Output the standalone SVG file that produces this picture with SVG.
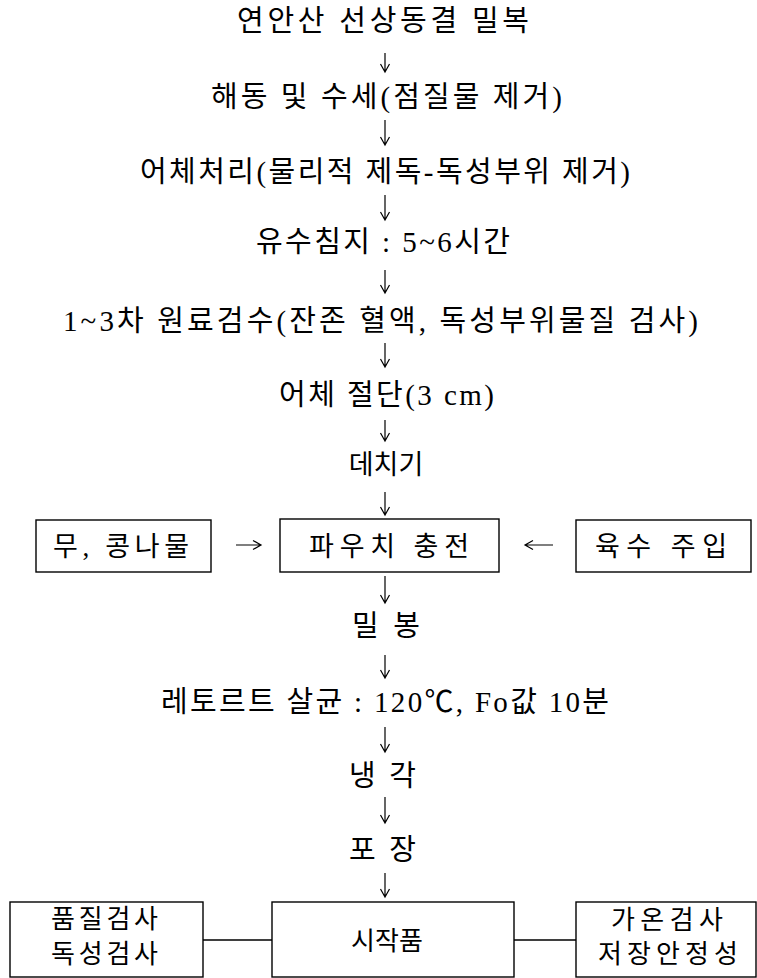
<svg xmlns="http://www.w3.org/2000/svg" width="757" height="978" viewBox="0 0 757 978">
<style>
text{font-family:"Liberation Serif","Noto Sans CJK KR",serif;font-size:29px;fill:#000;dominant-baseline:central;font-weight:400}
.b{font-size:27px}
.s{font-size:26px}
.c{text-anchor:middle}
.box{fill:#fff;stroke:#000;stroke-width:1.4}
.ar{fill:none;stroke:#000;stroke-width:1.2}
.ln{fill:none;stroke:#000;stroke-width:1.5}
</style>
<rect width="757" height="978" fill="#fff"/>
<g id="connectors">
<path class="ar" d="M385 53V72M380.5 64L385 72L389.5 64"/>
<path class="ar" d="M385 120V145M380.5 137L385 145L389.5 137"/>
<path class="ar" d="M385 195V220M380.5 212L385 220L389.5 212"/>
<path class="ar" d="M385 270V293M380.5 285L385 293L389.5 285"/>
<path class="ar" d="M385 343V367M380.5 359L385 367L389.5 359"/>
<path class="ar" d="M385 420V441M380.5 433L385 441L389.5 433"/>
<path class="ar" d="M385 492V515M380.5 507L385 515L389.5 507"/>
<path class="ar" d="M385 576V603M380.5 595L385 603L389.5 595"/>
<path class="ar" d="M385 655V678M380.5 670L385 678L389.5 670"/>
<path class="ar" d="M385 727V752M380.5 744L385 752L389.5 744"/>
<path class="ar" d="M385 797V823M380.5 815L385 823L389.5 815"/>
<path class="ar" d="M385 873V897M380.5 889L385 897L389.5 889"/>
<path class="ar" d="M236 545H261M253 540.5L261 545L253 549.5"/>
<path class="ar" d="M553 545H525M533 540.5L525 545L533 549.5"/>
<path class="ln" d="M203 940H272M514 940H576"/>
</g>
<g id="n1"><text x="237" y="21" textLength="292" lengthAdjust="spacing">연안산 선상동결 밀복</text></g>
<g id="n2"><text x="211" y="97" textLength="351" lengthAdjust="spacing">해동 및 수세(점질물 제거)</text></g>
<g id="n3"><text x="140" y="172" textLength="490" lengthAdjust="spacing">어체처리(물리적 제독-독성부위 제거)</text></g>
<g id="n4"><text x="256" y="242" textLength="254" lengthAdjust="spacing">유수침지 : 5~6시간</text></g>
<g id="n5"><text x="63" y="321" textLength="635" lengthAdjust="spacing">1~3차 원료검수(잔존 혈액, 독성부위물질 검사)</text></g>
<g id="n6"><text x="279" y="395" textLength="215" lengthAdjust="spacing">어체 절단(3 cm)</text></g>
<g id="n7"><text class="b c" x="386" y="465">데치기</text></g>
<g id="n8"><rect class="box" x="36" y="520" width="175" height="52"/><text class="b" x="53" y="547" textLength="136" lengthAdjust="spacing">무, 콩나물</text></g>
<g id="n9"><rect class="box" x="280" y="519" width="219" height="53"/><text class="b" x="309" y="547" textLength="160" lengthAdjust="spacing">파우치 충전</text></g>
<g id="n10"><rect class="box" x="576" y="520" width="175" height="52"/><text class="b" x="595" y="547" textLength="132" lengthAdjust="spacing">육수 주입</text></g>
<g id="n11"><text x="352" y="626" textLength="68" lengthAdjust="spacing">밀 봉</text></g>
<g id="n12"><text x="161" y="702" textLength="448" lengthAdjust="spacing">레토르트 살균 : 120℃, Fo값 10분</text></g>
<g id="n13"><text x="349" y="776" textLength="67" lengthAdjust="spacing">냉 각</text></g>
<g id="n14"><text x="349" y="850" textLength="67" lengthAdjust="spacing">포 장</text></g>
<g id="n15"><rect class="box" x="10" y="902" width="193" height="75"/><text class="s" x="51" y="919" textLength="107" lengthAdjust="spacing">품질검사</text><text class="s" x="51" y="954" textLength="107" lengthAdjust="spacing">독성검사</text></g>
<g id="n16"><rect class="box" x="272" y="902" width="242" height="75"/><text class="s c" x="387" y="941">시작품</text></g>
<g id="n17"><rect class="box" x="576" y="902" width="180" height="75"/><text class="s" x="611" y="920" textLength="112" lengthAdjust="spacing">가온검사</text><text class="s" x="598" y="954" textLength="140" lengthAdjust="spacing">저장안정성</text></g>
</svg>
